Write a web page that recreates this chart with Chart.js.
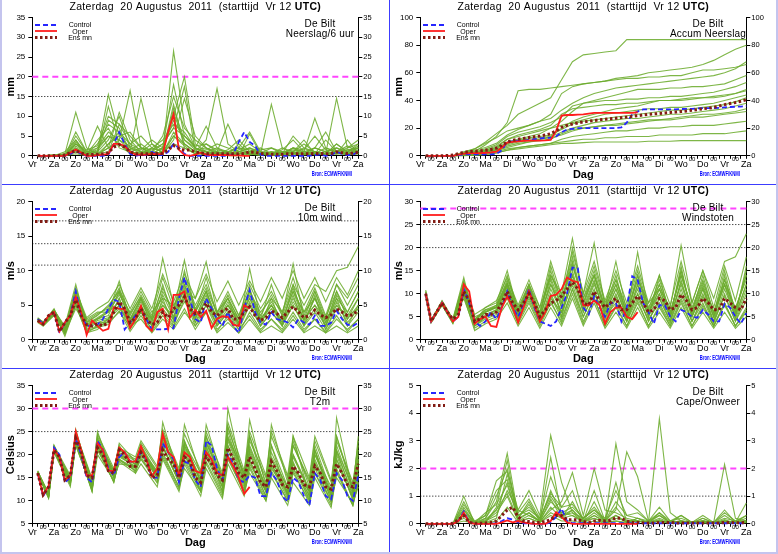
<!DOCTYPE html>
<html>
<head>
<meta charset="utf-8">
<script src="https://cdn.jsdelivr.net/npm/chart.js@4.4.1/dist/chart.umd.min.js"></script>
<style>
  body { margin: 0; background: #fff; }
  #wrap { position: relative; width: 778px; height: 554px; overflow: hidden; background: #fff; }
  canvas { position: absolute; }
  .sep { position: absolute; background: #3c3cff; }
  .frame { position: absolute; background: #c4c4ee; }
</style>
</head>
<body>
<div id="wrap">
  <canvas id="neerslag" width="389" height="184" style="left:0;top:0"></canvas>
  <canvas id="accum" width="389" height="184" style="left:388px;top:0"></canvas>
  <canvas id="wind" width="389" height="184" style="left:0;top:184px"></canvas>
  <canvas id="stoten" width="389" height="184" style="left:388px;top:184px"></canvas>
  <canvas id="t2m" width="389" height="184" style="left:0;top:368px"></canvas>
  <canvas id="cape" width="389" height="184" style="left:388px;top:368px"></canvas>
  <div class="sep" style="left:389px;top:0;width:1px;height:554px"></div>
  <div class="sep" style="left:0;top:184px;width:778px;height:1px"></div>
  <div class="sep" style="left:0;top:368px;width:778px;height:1px"></div>
  <div class="frame" style="left:0;top:0;width:2px;height:554px"></div>
  <div class="frame" style="left:776px;top:0;width:2px;height:554px"></div>
  <div class="frame" style="left:0;top:552px;width:778px;height:2px"></div>
</div>
<script>
// tijdas: uren na start (Vr 12 UTC)
const XLABELS = ['Vr','00','Za','00','Zo','00','Ma','00','Di','00','Wo','00','Do','00','Vr','00',
                 'Za','00','Zo','00','Ma','00','Di','00','Wo','00','Do','00','Vr','00','Za'];
const H6 = [6,12,18,24,30,36,42,48,54,60,66,72,78,84,90,96,102,108,114,120,
            126,132,138,144,150,156,162,168,174,180,186,192,198,204,210,216,222,228,234,240,
            246,252,258,264,270,276,282,288,294,300,306,312,318,324,330,336,342,348,354,360];
const H12 = [6,12,24,36,48,60,72,84,96,108,120,132,144,156,168,180,192,204,216,228,240,
             252,264,276,288,300,312,324,336,348,360];
const HT = [6,18,24,42,48,66,72,90,96,114,120,138,144,162,168,186,192,210,216,234,240,
            258,264,282,288,306,312,330,336,354,360];

// Neerslag/6 uur (mm)
const PRECIP_CONTROL = [0,0,0,0,0,0,0.5,1.2,0.5,0, 0,0,0,0.3,3,6,3,0.5,0,0.3, 0.2,1,0.3,0.2,1,3,2,0.5,0,0,
  0,0,0,0,0,0,0.5,3.5,6,3.5, 2.5,0.3,0,0,0,0,0,0,0,0, 0,0.2,0.3,0,0.2,1,0.5,0.2,0.3,1];
const PRECIP_OPER = [0,0,0,0,0,0,0.8,1.6,0.8,0, 0,0.2,0.3,0.5,3,3,2.5,1,0.3,0.3,
  0.3,0.5,0.4,0.5,6,10.5,1.5,0.2,0,0.3, 0.8,0.3,0.2,0.2,0.2,0.2,0.1,0.1,0,0];
const PRECIP_MEAN = [0,0,0,0.05,0.1,0.2,0.8,1.3,0.7,0.3, 0.3,0.4,0.5,0.8,2.2,2.8,2.2,1,0.5,0.5,
  0.5,0.6,0.6,0.6,1.5,2.6,1.8,1.4,1.5,1, 0.7,0.6,0.5,0.5,0.5,0.5,0.5,0.5,0.6,1,
  0.9,0.6,0.5,0.4,0.4,0.4,0.5,0.5,0.5,0.5, 0.5,0.6,0.6,0.5,0.6,1,0.8,0.6,0.7,0.9];
const PRECIP_MEMBERS = [
  [0,0,0,0.5,11,2,0.5,3,6,1,0.5,2,1,26.5,8,2,1,0.5,0.3,0.5,1,0.5,0,0.5,1,0.5,2,1,0.5,1,0.5],
  [0,0,0,1,4,0.5,1,15.5,5,2,1,0.5,2,10,20,3,1,2,0.5,0,0.3,0.5,0.5,0,0,1,0.5,0.5,3,1,2],
  [0,0,0.2,0,3,1,7.5,2,4,16.5,2,1,3,7,17.5,1,0.5,0.3,1,2,0.5,0,1,0.5,2,1,9.5,2,1,0.5,1],
  [0,0,0,0,2,0,0.5,1,8,3,5,2,1,5,3,1,4,17,3,1,2,0.5,13,2,0.5,0.5,1,0.5,1,2,4],
  [0,0,0,0,5,1,2,5,3,1,14.5,3,0.5,12,4,2,1,1,8,2,6,1,0.5,0.5,5,2,0.5,0.5,14.5,2,3],
  [0,0,0,0.5,1,0.5,0.3,2,11,4,1,1,0.5,4,14.5,5,2,0.5,0.2,0.5,1,2,0.5,1,0.5,0.5,2,6,1,0.5,2],
  [0,0,0,0,3,0.5,4,7,2,1,0.5,2,4,8,6,2,7.5,2,1,0.5,0.5,0.3,0.5,2,1,4,0.5,1,2,0.5,1],
  [0,0,0,0,0.5,0,0,3,5,6,2,0.5,1,3,2,0.5,0.3,0.5,0,0,5.5,0.5,0,0.5,2,0.3,0.5,4,1,0.2,0.5],
  [0,0,0,0,2,0.5,1,4,10,2,0.5,1,0.5,6,3,1,0.5,0.5,0.3,3,0.5,0.5,1,0.3,0.5,0.5,0.3,0.5,0.5,1.5,1],
  [0,0,0,0,4,0.2,0.5,12.5,3,1,0.5,0.5,2,18,5,2,0.5,1,0.5,0.5,0.3,0.5,2,0.5,1,3,1,0.5,0.5,4,0.5],
  [0,0,0,0,1.5,0.3,2,6,4,2.5,1,3,1.5,9,4,1.5,2,0.5,1.5,4,1,0.5,0.3,1,0.5,2,1,0.5,3,1,2.5],
  [0,0,0,0,6,1,1,9,7,1,2,0.5,1,13,2,0.5,3,1,0.5,1,2,1,0.5,0.5,1,0.5,1,0.5,1,0.5,1.5],
  [0,0,0,0,2.5,0.5,3,8,6,3,1.5,4,2,11,3,1,1.5,3,2,1,1,1.5,2,1,1.5,1,2,1,2,1,3],
  [0,0,0.3,0,3.5,0.5,1.5,5,4,1.5,3,1,5,15,7,4,2,1,0.5,1.5,3,1,0.5,1.5,4,1,0.5,2,1,2.5,1],
  [0,0,0,0,1,0,0.5,2,3,0.5,1,0.5,0.5,5,2.5,0.5,0.5,0.3,0.5,0.5,0.5,0.3,0.3,0.2,0.5,0.3,0.5,0.3,0.5,0.3,0.5],
  [0,0,0,0.2,3,1.5,2.5,10,8,5,2,1.5,3,7,5,2.5,3,1.5,1,2,1.5,0.5,1,0.5,2,1.5,5,1.5,1,1.5,2]
];

// Accum Neerslag (mm)
const ACCUM_CONTROL = [0,0,0,0,0,0,0.5,1,1,1, 1,1,1,1.3,4,10,10.5,11,11,11.5, 12,12.5,13,13,14,17,19,19.5,20,20,
  20,20,20,20,20,20,20.5,24,30,32, 33.5,33.5,33.5,33.5,33.5,33.5,33.6,33.8,34,34, 34.2,34.5,34.5,34.5,34.7,35,35.3,35.5,35.6,36];
const ACCUM_OPER = [0,0,0,0,0,0,0.8,1.6,2,2, 2,2.2,2.5,3,6,9.5,10,10.5,10.8,11,
  11,11,11.2,11.5,18,29,29.5,29.5,29.8,30, 30.5,31,31,31,31,31,31,31,31,31.5];
const ACCUM_MEAN = [0,0,0,0,0.2,0.5,1.5,2.5,3,3.3, 3.6,4,4.6,5.5,7.5,10,11.2,12,12.6,13.2,
  13.8,14.3,15,16,18,20.5,22,23,23.8,24.5, 25,25.5,26,26.4,26.8,27.2,27.6,28,28.5,29,
  29.5,30,30.3,30.6,31,31.3,31.6,32,32.4,33, 33.4,34,34.4,35,36,37,37.8,38.6,39.5,40.5];
const ACCUM_MEMBERS = [
  [0,0,0,0,2,5,10,16,22,30,34,38,42,55,68,73,74,75,76,84,84,84,84,84,84,84,84,84,84,84,84],
  [0,0,0,0,1,3,8,14,24,47,48,48,49,50,51,52,53,54,56,57,58,60,61,62,63,64,66,69,73,77,80],
  [0,0,0,0,3,5,9,13,18,20,22,25,30,45,50,52,53,54,55,56,56,57,57,58,58,60,62,62,63,64,66],
  [0,0,0,0,1,2,3,5,10,12,14,16,20,25,32,38,40,42,44,46,48,48,48,49,49,50,50,51,52,55,58],
  [0,0,0,0,0.5,1,2,4,6,8,10,12,14,20,25,28,30,32,34,35,36,38,40,40,41,42,42,43,44,45,47],
  [0,0,0,0,2,3,4,6,12,14,16,18,20,22,24,26,28,30,31,32,33,34,34,35,35,36,37,38,40,42,44],
  [0,0,0,0,1,2,3,4,8,10,11,12,13,15,18,20,21,22,22,23,24,25,26,26,27,28,28,29,30,31,32],
  [0,0,0,0,0,0.5,1,2,4,6,7,8,9,12,14,15,16,17,18,18,19,20,20,21,21,22,22,22,23,24,25],
  [0,0,0,0,0.5,1,2,3,5,6,7,8,9,10,11,12,12,13,13,14,14,14,15,15,15,15,16,16,16,17,18],
  [0,0,0,0,0.3,0.5,1,2,4,5,6,7,8,9,9,9.5,10,10,10,10,10,10.5,10.5,10.5,11,11,11,11,11,11,11],
  [0,0,0,0,1.5,2.5,5,8,14,17,19,21,24,28,36,38,39,40,40,41,41,42,42,43,43,44,45,46,48,50,53],
  [0,0,0,0,0.5,1.5,3,6,9,11,12,13,14,17,20,22,24,25,26,27,27,28,29,30,30,31,32,33,34,36,38],
  [0,0,0,0,1,2,4,7,12,15,17,19,22,30,34,35,36,37,37,38,38,39,40,40,40,41,42,42,43,45,48],
  [0,0,0,0,0.5,1,2,3,7,9,10,11,12,16,19,20,21,22,23,24,25,26,26,27,28,29,30,30,31,32,34],
  [0,0,0,0,2,4,6,9,15,19,22,25,27,33,38,42,45,47,49,50,51,52,53,54,55,56,57,58,60,63,68],
  [0,0,0,0,1,1.5,2.5,4,9,11,13,14,15,19,23,25,26,27,28,29,30,31,32,33,33,34,35,36,37,39,42]
];

// 10m wind (m/s)
const WIND_CONTROL = [3,2.3,3.5,4,1,2.5,3.5,7,3.5,2, 2,2.2,3,4.5,5.8,5.5,1.5,2.5,3.5,4.5,
  3,1.5,1.5,1.5,1.6,1.7,6,9,6,3, 2.5,6,4.5,3,2,4,2,1,4.5,7.2,
  4,2.5,2.2,4,3,2.8,2.5,1.8,3,2.5, 2.2,3.5,2,2,2.5,4.2,3,2.2,2,2.5];
const WIND_OPER = [2.7,2.2,3.5,4,1.2,2.5,3.5,6.2,4,0.7, 2.8,2,1.3,1.6,4.7,4.5,4.4,1.7,3,4.9,
  2,1.3,4,4.5,1.5,6.5,6.5,7,3.2,4.3, 3.3,4.2,1.7,3,3.4,3.3,2.2,2,5,4.5];
const WIND_MEAN = [2.8,2.3,3.5,4,1.2,2.5,3.5,5.8,3.5,2.2, 2,2.3,2,2.5,4,5.5,4.5,2.5,3.2,4.5,
  3,2.2,2.5,4,3.2,4.5,5,6.2,4.5,3.8, 4,5.3,4,3.5,4.2,4.5,3,3,4,4.8,
  3.5,2.8,3.2,4.2,3.8,3.2,4,4.8,4,3.2, 3.5,4.3,3.6,3.2,3.6,4.5,4,3.5,3.6,4.3];
const WIND_MEMBERS = [
  [3,2.3,4.2,2,8,2,3,4,8.5,3,6,3,11.8,5,8,4,7,3,6,3,7,4,6,4,8,5,8,7,10,10.5,13.5],
  [2.8,2,3.8,1,7,1.5,2.5,3,6,2,5,2,7,4,11.5,4,7,3,5,2.5,6,3,5,3,7,4,6,3,8,6,9],
  [3,2.5,4,1.5,6,2.5,3.5,5,7,3,6,2,5,3,8,3,6,2,4,1.5,5,2,4,2,5,2,4,1.5,5,3,5],
  [2.7,2.2,4,0.5,5,1,2,3,5,1.5,4,1.5,4,2,6,2,5,1.5,3,1,4,1.5,3,1.5,4,1.5,3,1,3,1.5,3],
  [3.2,2.5,4.5,1.2,6.5,3,4,4,6.5,4,7,4,6,5,7,6,11.3,4,6,3,7,3,8,3.5,11,3,7,2.5,6,4,7],
  [2.5,2,3.5,1,4.5,2,2.5,2.5,4,2,3,1,3,1.5,4,2,4,1,2.5,1,3,1,2,1,3,1,2,1,2,1,2],
  [3,2.4,4.3,1.8,7.5,2.5,3,3.5,7,2.5,5.5,2.5,8,3,10,4,9,3.5,6,2,10.3,3,5,2.5,6,3,5,2,7,3,6],
  [2.9,2.2,3.9,1.3,6,2,3,4,5.5,3,4.5,3,5,3.5,6,3.5,5.5,3,5,3,6,2.5,4.5,2.5,5.5,3,5,3,5,3.5,4.5],
  [3.1,2.6,4.1,1.5,5.5,1.5,2,2.5,6,1.8,4,1.5,6,2,7,2.5,6,2,4,2,5,2,6,2,8,2.5,6,2,6,2,5],
  [2.6,2.1,3.7,0.8,5,1,1.5,3,4.5,2.5,5,2,4.5,2.5,5.5,3,7,2.5,5,2.5,7.5,2.5,5,2,6.5,2,6.5,1.5,4.5,2,4],
  [2.9,2.4,4,1.4,6.8,2.8,3.8,4.5,7.5,3.5,6.5,3.5,9,4.5,9,5,8,4,7,3.5,8,4.5,7,4,9,4,7.5,3.5,8,5,8],
  [2.7,2.1,3.6,1.1,5.8,1.8,2.8,3.2,5,2.2,4.2,2.2,5.5,2.8,6.5,2.5,5,2.2,4.5,2.2,5.5,2,4,2.2,5,2.2,4.5,2,5.5,2.5,4.5],
  [2.8,2.3,4,1.2,6.2,2.2,3.2,4.2,6.8,2.8,5.8,2.8,6.5,3.2,7.5,3.2,6.5,2.8,5.5,2.5,6.5,2.8,5.5,2.8,7,2.8,6,2.5,6.5,3.5,6],
  [3,2.2,4.2,1.6,7.2,3.2,4.5,5.5,8,4.5,7.5,4.5,9.5,5.5,9.5,6,9.5,5.5,8.5,5,8.5,5.5,9,6,10,6,9,5.5,9,6.5,10],
  [2.6,2.3,3.8,0.9,5.3,1.3,1.8,2.2,4.2,1.2,3.5,1.2,3.5,1.8,4.5,1.5,4,1.2,3.5,1.5,3.5,1.2,3,1.2,3.5,1.2,3,1.2,3.5,1.2,3],
  [3.1,2.5,4.4,1.7,7,2.6,3.6,4.8,7.2,3.8,6.2,3.2,7.5,4,8.5,4.5,7.5,3.8,6.5,3.5,7,3.5,6.5,3.5,7.5,3.5,7,3.2,7,4,7]
];

// Windstoten (m/s)
const GUST_CONTROL = [10,4,6,8,6,4,5,11,8,4, 3,4,6,4.5,7,10.5,7,5,7.5,11, 7,4,3.5,3,4,7,10,15.7,15.5,7,
  5.5,9.5,7,5,8,8,4,7,13.8,13, 8,6,3.5,7.5,7.5,5,4,6.5,6,5, 4.8,6.5,5.5,4,4,7.8,7,5,3.5,5.8];
const GUST_OPER = [10,4,6,8,6,4,5,12,10.5,3.5, 4.5,5,3,2.8,7,9.5,7,3.8,7,10.5,
  7.5,4,6,9.5,9.8,11,13.5,12.8,12.5,7.5, 7.5,8.5,7.5,3.5,6,7,7,5,4.5,6];
const GUST_MEAN = [10,4,6,8,6,4.5,5.5,10.5,8.5,4, 4.5,5.5,5.5,6,8,10.5,8,6.5,8,10,
  8,5,6.5,8,8.5,9.5,11,12.5,11,8, 7.5,10.5,8.5,7,8,9,6.5,6.5,8,9.5,
  8,6,6.5,9,8.5,6.5,7,9.8,8.5,6.5, 7,9,8,6.5,6.5,9,8,7,6.5,9];
const GUST_MEMBERS = [
  [10.5,4,8.5,4.5,13.5,4,7,8,15,6,12,7,14,10,22,9,14,7,12,6,13,8,11,7,20.5,8,15,9,17,18,23],
  [9.5,3.8,7.5,3.5,11,3,5,6,12,5,11,5,12,8,17,8,14,6,11,5,14,6,11,5,15,6,12,5,13,6,14],
  [10,4.2,8,4,10,3.5,5.5,6.5,10.5,4.5,9,4,10,5,13,6,11,4,9,4,10,4,9,4,11,4,9,3.5,10,4,10],
  [10,4,7.8,3.8,9,2.5,4,5,9,3.5,8,3,8,4,11,4,9,3,7,3,8,3,7,3,8,3,7,3,8,3,7],
  [10.8,4.4,8.2,4.2,12,5,6,7,13,7,12,6,14,9,16,9,16,8,13,7,15,7,12,6,14,7,13,6,12,7,13],
  [9.8,3.9,7.7,3.9,10.5,4,6.5,7,11,5,10,4.5,9,6,12,5,10,5,8,4,9,4.5,8,3.5,9,4,8,3,8,3,6],
  [10.2,4.1,8,4,11.5,3,5,6,12,4,11,5,15,7,20,10,21,7,14,5,19,6,10,4,13,5,11,4,14,5,12],
  [10,4,8.1,4.1,12.5,3.5,6,7.5,14,6,12,4,11,6,14,7,13,5,10,4,12,5,14,5,16,5,10,4,11,5,16],
  [9.7,3.7,7.6,3.6,9.5,2,3.5,4.5,8,3,7,2.5,7,3,9,3,8,2.5,6,2.5,7,2.5,6,2.5,7,2.5,6,2.5,6,2.5,5],
  [10.3,4.3,8.3,4.3,11,4,5,6.5,11.5,5.5,10.5,4.5,13,5,15,6,12,6,12,5,11,5,10,5,12,5,11,5,12,4.5,11],
  [10.1,4.1,8,4,12,4.5,6.5,7.5,12.5,6,11,5.5,16,8,18,8,15,7,17,6,13,6,12,5.5,15,6,14,5.5,15,6,15],
  [9.9,3.9,7.9,3.9,10,3.5,5,6,10,4.5,9.5,4,9.5,4.5,11,5,10.5,4.5,9.5,4.5,10,4,9,4,10,4,9.5,4,9.5,4,8.5],
  [10,4,8,4,11.8,4.2,6,7,12,5.5,11,5,12,6,14,6.5,12.5,5.5,11,5,12,5.5,11,5,12.5,5.5,11.5,5,12,5.5,12],
  [10.4,4.2,8.4,4.4,12.8,5.5,7,8.5,13.5,7.5,13,7,17,9.5,19,10,17,8.5,15,8,16,8,14,7.5,17,8,15,7,16,8.5,18],
  [9.6,3.8,7.6,3.7,9.8,3,4.5,5.5,9.5,4,8.5,3.5,8.5,3.5,10,3.5,9,3,7.5,3,8.5,3,7.5,3,8.5,3,7.5,3,7.5,3,6.5],
  [10.2,4.2,8.2,4.2,11.2,4.5,6.2,7.2,12.2,6.5,11.5,6,13.5,7,16.5,7.5,14,6.5,13,6,14,6.5,13,6,14,6.5,12.5,6,13,6.5,14]
];

// T2m (Celsius)
const T2M_CONTROL = [16,11,13,21.5,20,14,15,23.5,20,15, 14,23,21,17,15.5,19.5,20.5,18.5,18.5,20.5,
  19,15,15,22.5,20.5,19,14,18.5,18,14.5, 13,23,22,17,14.5,20,18,14.5,14,15.5,
  15,11,11,16,14.5,11,9.8,15,14,11, 9,16,14.5,11,10.3,16,14.5,11,10,15.5];
const T2M_OPER = [16,11.2,13.2,21,19.5,14.5,15.5,25,21,15.5, 15.5,22.5,21,16.5,16.5,21.5,20.5,18.5,18.5,21.8,
  19,15.3,17,24.5,20.5,19.5,15.5,20.5,19.5,16.5, 16,20.5,19,16,15.5,19.5,17.5,15,11.5,13];
const T2M_MEAN = [16,11.3,13,21,19.5,14.5,15.5,23.5,20.5,15.5, 15,21.5,20,16.5,16,21,20,17.5,17.5,20.5,
  18.5,15,15.5,21,19,18,15,19.5,18.5,15, 14,19.5,18,15.5,14.5,21.5,19,16,15,19.5,
  17,14,13,18.5,16.5,13.5,13,17.5,16,13.5, 13,17.5,16,13,12.5,18,16,13.5,13,18];
const T2M_MEMBERS = [
  [16.5,11,22,14,25.5,13,25,15,22,16,21,16,27,15,23,14,24,13,30,14,24,12,22,11,24,11,21,10,28,12,24],
  [16,10.5,21,13.5,23,12,22,14,19,17,22,15,22,14,20,12,21,14,24,16,22,13,19,12,22,14,20,13,24,12,21],
  [15.8,11.5,21.5,14.5,24,14.5,23.5,16,20,18,20,16,23,16,22,15,24,15,26,15,24,14,22,13,20,12,21,11,21,11,17],
  [16.2,11,21,14,22,12.5,21,15,18,17.5,19,14.5,20,13,17,12,18,11,19,12,16,10,15,9,14,9,15,8.5,16,9,14],
  [16,11.2,21.3,15,24.5,13.5,22.5,16,21,18.5,21.5,15.5,24,15.5,23,14,20,13,22,13,18,12,17,12,18,11,16,10,18,11,19],
  [15.9,10.8,20.5,13,22.5,12,20,14.5,18.5,16,18,13,19,12,18,11,17,10.5,18,11,17,10,16,10,16,10,17,10,15,9.5,13],
  [16.3,11.4,21.8,14.8,25,14,23,16.5,21,19,21,16.5,25,16,26.5,15.5,26.5,15,26,15.5,27.5,13,26.5,14,23,13,22,12,24,13,23],
  [16.1,11.1,21.2,14.2,23.5,13,22,15.5,20,17,20.5,15,21.5,14.5,21,13.5,21.5,14,23,14,21,12.5,18,11.5,17,12,18,12,19,10.5,18],
  [16,10.9,21.5,14,24,13.5,23.5,15.5,19.5,17.5,20,15,22,14,20.5,13,22,12,21,12.5,19,11,18,11,17,10.5,19,11,20,10,16],
  [16.2,11.3,21,14.5,23,13,22,16,20.5,18,22,16,23.5,15,22,14.5,23,14.5,25,14,20,12,19.5,13,20,12.5,21,11.5,22,12,20],
  [16.4,11.6,22,15.5,24.5,14.5,24,16.5,22.5,18.5,22.5,17,24.5,16.5,22.5,16,22.5,15.5,23.5,16,23,15,24,15,22,14.5,23,14,21,13,19],
  [15.7,10.6,20.8,13.8,22,12.5,21.5,14,19,16.5,19.5,14,20.5,13,19,12.5,19.5,12,20,12,18.5,11,17.5,10.5,18.5,10,18,9.5,17,9,15],
  [16.1,11.2,21.4,14.6,23.8,13.2,22.8,15.8,20.2,17.8,21,15.5,22.8,15.2,21.5,14.2,22.5,14,23.5,14.5,21.5,13,20.5,12.5,19.5,12,20,11.5,20.5,11.5,18.5],
  [15.9,11,21,14,23.2,12.8,21.8,15.2,19.8,17.2,20.8,15,21.8,14,20,13.5,20.5,13,22,13.5,20.5,12,19,11.5,18,11,18.5,10.5,19,10.5,17],
  [16.3,11.5,21.6,15.2,24.8,14.8,24.5,17,21.5,19.5,23,17.5,25.5,17,24.5,16.5,25,16,27,16.5,25,15.5,25,15.5,24,15,24,14.5,23,14,22],
  [15.8,10.7,20.6,13.5,22.8,12.2,21,14.2,18.8,16.5,19,13.8,19.5,12.5,18.5,12,18.5,11.5,19.5,11.5,17.5,10.5,16.5,10,16.5,9.5,16,9,16.5,9,14]
];

// Cape/Onweer (kJ/kg)
const CAPE_CONTROL = [0,0,0,0,0,0,0.1,0.45,0.05,0, 0,0,0,0.02,0.1,0.2,0.15,0.05,0.02,0.02,
  0,0,0,0.05,0.25,0.55,0.1,0.02,0.02,0.02, 0.02,0.02,0.02,0.02,0.02,0.02,0.02,0.02,0.02,0.02,
  0.02,0.02,0.02,0.02,0.02,0.02,0.02,0.02,0.02,0.02, 0.02,0.02,0.02,0.02,0.02,0.02,0.02,0.02,0.02,0.02];
const CAPE_OPER = [0,0,0,0,0,0,0.1,0.4,0.05,0, 0,0,0,0,0.05,0.12,0.05,0.1,0.05,0.02,
  0,0,0,0.1,0.42,0.25,0.05,0,0,0, 0,0,0,0,0,0,0,0,0,0];
const CAPE_MEAN = [0,0,0,0,0,0.02,0.15,0.3,0.05,0.02, 0.02,0.03,0.05,0.1,0.3,0.5,0.6,0.25,0.1,0.08,
  0.05,0.05,0.08,0.15,0.3,0.3,0.15,0.15,0.15,0.08, 0.05,0.1,0.12,0.1,0.12,0.22,0.2,0.1,0.05,0.05,
  0.03,0.03,0.03,0.05,0.05,0.05,0.03,0.03,0.03,0.03, 0.03,0.03,0.03,0.03,0.03,0.05,0.05,0.04,0.04,0.05];
const CAPE_MEMBERS = [
  [0,0,0,0,1,0,0.2,0.8,2.55,0.3,0.5,0.2,1,0.4,0.3,0.1,0.2,0.05,0.1,0.05,0.1,0.05,0.2,0.05,0.05,0.02,0.05,0.02,0.1,0.02,0.05],
  [0,0,0,0,0.7,0.1,0.3,1.55,1.9,0.5,1.2,0.3,3.2,1.5,0.4,0.2,0.5,0.2,1.2,0.3,0.2,0.1,0.3,0.05,0.1,0.05,0.1,0.05,0.1,0.05,0.1],
  [0,0,0,0,0.5,0,0.1,0.5,1.5,0.2,0.8,0.1,0.5,0.8,1.85,0.3,2,0.5,0.4,0.2,0.1,0.05,3.8,0.4,0.1,0.05,0.1,0.02,0.1,0.05,0.3],
  [0,0,0,0,0.3,0.05,0.1,0.3,1.2,0.5,0.3,0.1,0.8,0.4,0.6,0.2,0.5,0.1,2.9,0.8,0.5,0.1,0.4,0.1,0.2,0.05,0.1,0.05,0.2,0.1,0.1],
  [0,0,0,0,0.4,0.05,0.2,1,2,0.3,0.6,0.2,1.7,0.6,1.2,0.1,0.3,0.1,0.5,2.6,1.7,0.1,0.1,0.05,0.1,0.05,0.2,0.05,2.15,0.2,0.1],
  [0,0,0,0,0.2,0,0.05,0.2,1.8,0.2,0.4,0.05,0.6,0.2,0.8,0.1,1.2,0.1,0.3,0.05,0.2,0.05,0.1,0.05,0.3,0.05,0.1,0.05,0.3,0.05,0.75],
  [0,0,0,0,0.6,0.02,0.1,0.4,1,0.1,0.3,0.1,1.2,0.3,0.4,0.05,0.2,0.05,0.2,0.1,0.1,0.02,0.4,0.02,0.05,0.02,0.05,0.02,0.05,0.02,0.05],
  [0,0,0,0,0.1,0,0.05,0.6,2.3,0.1,0.2,0.05,0.4,0.2,0.3,0.05,0.8,0.05,1.5,0.05,0.1,0.02,0.1,0.02,0.05,0.02,0.2,0.02,0.1,0.02,0.1],
  [0,0,0,0,0.3,0,0.02,0.1,0.6,0.05,0.2,0.05,0.3,0.1,0.1,0.02,0.1,0.02,0.1,0.02,0.1,0.02,0.1,0.02,0.05,0.02,0.05,0.02,0.05,0.02,0.05],
  [0,0,0,0,0.8,0.05,0.4,0.7,1.4,0.2,0.7,0.1,2.4,0.3,0.5,0.1,0.4,0.1,0.6,0.1,0.1,0.05,0.3,0.05,0.1,0.05,0.1,0.05,0.5,0.05,0.2],
  [0,0,0,0,0.5,0.05,0.3,1.2,1.6,0.4,0.9,0.2,1.1,0.6,0.7,0.2,0.6,0.1,0.8,0.3,0.4,0.1,0.6,0.1,0.3,0.05,0.3,0.05,0.4,0.1,0.3],
  [0,0,0,0,0.3,0.02,0.15,0.5,1.1,0.15,0.4,0.1,0.9,0.2,0.5,0.05,0.3,0.05,0.3,0.05,0.2,0.02,0.15,0.02,0.1,0.02,0.1,0.02,0.15,0.02,0.1]
];

const FONT = '"Liberation Sans", Arial, Helvetica, sans-serif';
const GREEN = 'rgba(108,172,46,0.88)';
Chart.defaults.font.family = FONT;
Chart.defaults.color = '#000';

function xy(hours, vals) {
  return vals.map((v, i) => ({ x: hours[i], y: v }));
}

function refLine(y, kind) {
  const pink = kind === 'pink';
  return {
    label: 'ref', data: [{ x: 0, y: y }, { x: 360, y: y }],
    borderColor: pink ? '#ff44ff' : '#000', borderWidth: pink ? 2 : 1,
    borderDash: pink ? [6, 4] : [1, 2]
  };
}

// titel, station, legenda en bron bovenop de grafiek
const panelText = {
  id: 'panelText',
  afterDraw(chart, args, opts) {
    const ctx = chart.ctx;
    const area = chart.chartArea;
    ctx.save();
    ctx.fillStyle = '#000';
    ctx.textBaseline = 'middle';

    const t1 = 'Zaterdag  20 Augustus  2011  (starttijd  Vr 12 ';
    const t2 = 'UTC)';
    ctx.letterSpacing = '0.3px';
    ctx.font = '10.5px ' + FONT;
    const w1 = ctx.measureText(t1).width;
    ctx.font = 'bold 10.5px ' + FONT;
    const w2 = ctx.measureText(t2).width;
    let x = (area.left + area.right) / 2 - (w1 + w2) / 2;
    ctx.textAlign = 'left';
    ctx.font = '10.5px ' + FONT;
    ctx.fillText(t1, x, 7.5);
    ctx.font = 'bold 10.5px ' + FONT;
    ctx.fillText(t2, x + w1, 7.5);

    ctx.letterSpacing = '0.2px';
    ctx.textAlign = 'center';
    ctx.font = '10px ' + FONT;
    ctx.fillText('De Bilt', 320, 24);
    ctx.fillText(opts.name, 320, 34.5);

    ctx.letterSpacing = '0px';
    const rows = [['Control', 25, 25], ['Oper', 31, 31.8], ['Ens mn', 37.5, 38.3]];
    for (const r of rows) {
      const ds = chart.data.datasets.find(d => d.label === r[0]);
      ctx.strokeStyle = ds.borderColor;
      ctx.lineWidth = ds.borderWidth;
      ctx.setLineDash(ds.borderDash || []);
      ctx.beginPath();
      ctx.moveTo(35, r[1]);
      ctx.lineTo(57, r[1]);
      ctx.stroke();
      ctx.setLineDash([]);
      ctx.font = '7px ' + FONT;
      ctx.fillText(r[0], 80, r[2]);
    }

    ctx.fillStyle = '#0000ff';
    ctx.font = 'bold 7px ' + FONT;
    ctx.textAlign = 'right';
    ctx.translate(352, 174);
    ctx.scale(0.6, 1);
    ctx.fillText('Bron: ECMWF/KNMI', 0, 0);
    ctx.restore();
  }
};

function makePanel(id, p) {
  const datasets = [
    { label: 'Ens mn', data: xy(H6, p.mean), borderColor: '#821c14', borderWidth: 3, borderDash: [2.5, 2.5] },
    { label: 'Oper', data: xy(H6, p.oper), borderColor: '#ff1c1c', borderWidth: 1.8 },
    { label: 'Control', data: xy(H6, p.control), borderColor: '#2626ff', borderWidth: 1.8, borderDash: [5, 3] }
  ];
  p.members.forEach((m, i) => {
    datasets.push({ label: 'lid ' + (i + 1), data: xy(p.memberHours, m), borderColor: GREEN, borderWidth: 1.1 });
  });
  p.refs.forEach(r => datasets.push(refLine(r[0], r[1])));

  const yTicks = { stepSize: p.step, color: '#000' };
  new Chart(document.getElementById(id), {
    type: 'line',
    data: { datasets },
    plugins: [panelText],
    options: {
      responsive: false,
      animation: false,
      events: [],
      layout: { padding: { top: 17.5, left: 0, right: 0, bottom: 0 } },
      elements: { point: { radius: 0 }, line: { tension: 0 } },
      datasets: { line: { clip: false } },
      plugins: { legend: { display: false }, tooltip: { enabled: false }, panelText: { name: p.name } },
      scales: {
        x: {
          type: 'linear', min: 0, max: 360,
          afterFit(s) { s.height = 28.2; },
          ticks: {
            stepSize: 6, autoSkip: false, maxRotation: 0, minRotation: 0, padding: -3, color: '#000',
            callback: v => (v % 12 === 0 ? XLABELS[v / 12] : ''),
            font: c => (c.tick && c.tick.value % 24 === 0)
              ? { size: 9, lineHeight: 2.04 }
              : { size: 6, lineHeight: 1.17 }
          },
          grid: { drawOnChartArea: false, tickLength: 3, color: '#000' },
          border: { color: '#000' },
          title: { display: true, text: 'Dag', color: '#000', font: { size: 11, weight: 'bold' }, padding: { top: 0, bottom: 2.4 } }
        },
        y: {
          type: 'linear', position: 'left', min: p.min, max: p.max,
          afterFit(s) { s.width = 32.3; },
          ticks: Object.assign({ font: { size: 8 }, padding: 3 }, yTicks),
          grid: { drawOnChartArea: false, tickLength: 4, color: '#000' },
          border: { color: '#000' },
          title: { display: true, text: p.unit, color: '#000', font: { size: 11, weight: 'bold' }, padding: { top: 4.4, bottom: 0 } }
        },
        y2: {
          type: 'linear', position: 'right', min: p.min, max: p.max,
          afterFit(s) { s.width = 30.7; },
          ticks: Object.assign({ font: { size: 7.5 }, padding: 1 }, yTicks),
          grid: { drawOnChartArea: false, tickLength: 4, color: '#000' },
          border: { color: '#000' }
        }
      }
    }
  });
}

makePanel('neerslag', { name: 'Neerslag/6 uur', unit: 'mm', min: 0, max: 35, step: 5,
  control: PRECIP_CONTROL, oper: PRECIP_OPER, mean: PRECIP_MEAN, members: PRECIP_MEMBERS, memberHours: H12,
  refs: [[20, 'pink'], [15, 'dot']] });
makePanel('accum', { name: 'Accum Neerslag', unit: 'mm', min: 0, max: 100, step: 20,
  control: ACCUM_CONTROL, oper: ACCUM_OPER, mean: ACCUM_MEAN, members: ACCUM_MEMBERS, memberHours: H12,
  refs: [] });
makePanel('wind', { name: '10m wind', unit: 'm/s', min: 0, max: 20, step: 5,
  control: WIND_CONTROL, oper: WIND_OPER, mean: WIND_MEAN, members: WIND_MEMBERS, memberHours: H12,
  refs: [[17.2, 'dot'], [13.9, 'dot'], [10.8, 'dot']] });
makePanel('stoten', { name: 'Windstoten', unit: 'm/s', min: 0, max: 30, step: 5,
  control: GUST_CONTROL, oper: GUST_OPER, mean: GUST_MEAN, members: GUST_MEMBERS, memberHours: H12,
  refs: [[28.5, 'pink'], [25, 'dot'], [20, 'dot']] });
makePanel('t2m', { name: 'T2m', unit: 'Celsius', min: 5, max: 35, step: 5,
  control: T2M_CONTROL, oper: T2M_OPER, mean: T2M_MEAN, members: T2M_MEMBERS, memberHours: HT,
  refs: [[30, 'pink'], [25, 'dot']] });
makePanel('cape', { name: 'Cape/Onweer', unit: 'kJ/kg', min: 0, max: 5, step: 1,
  control: CAPE_CONTROL, oper: CAPE_OPER, mean: CAPE_MEAN, members: CAPE_MEMBERS, memberHours: H12,
  refs: [[2, 'pink'], [1, 'dot']] });
</script>
</body>
</html>
